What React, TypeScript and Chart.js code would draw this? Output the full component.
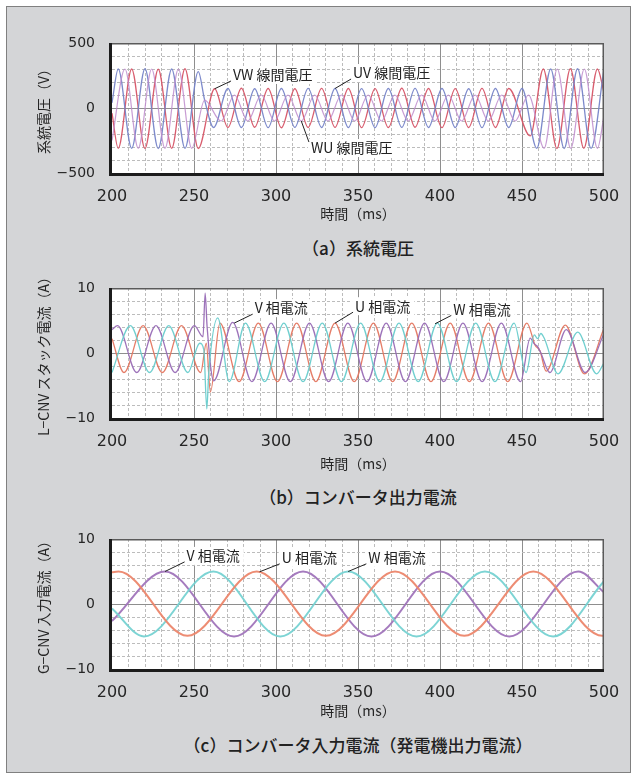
import React, { useEffect, useRef } from 'react';
import { Chart, registerables } from 'chart.js';

Chart.register(...registerables);

const JP_FONT = "'Noto Sans CJK JP', 'Noto Sans', sans-serif";
const NUM_FONT = "'DejaVu Sans', sans-serif";

// ---------- shared axis data ----------
const timeMin = 200;
const timeMax = 500;
const timeTickStep = 50;
const timeGridStep = 10;
const valueGridDivs = 10;

// ---------- (a) system line voltages [V] ----------
const aVWTime = [200, 203.8, 212, 220.1, 228.2, 236.4, 244.5, 252.6, 262.6, 270.7, 278.9, 287, 295.2, 303.3, 311.5, 319.6, 327.8, 336, 344.1, 352.2, 360.4, 368.5, 376.7, 384.8, 393, 401.2, 409.3, 417.5, 425.6, 433.8, 441.9, 455, 463, 471.3, 479.5, 487.7, 496, 500];
const aVWVolt = [-40, -310, 300, -312, 298, -310, 302, -312, 148, -150, 152, -148, 150, -152, 148, -150, 151, -149, 150, -151, 149, -150, 152, -148, 150, -151, 149, -150, 151, -150, 150, -215, 300, -312, 302, -310, 300, 120];

const aUVTime = [200, 203.8, 212, 220.1, 228.2, 236.4, 244.5, 252.6, 256.5, 262, 270.7, 278.9, 287, 295.2, 303.3, 311.5, 319.6, 327.8, 336, 344.1, 352.2, 360.4, 368.5, 376.7, 384.8, 393, 401.2, 409.3, 417.5, 425.6, 433.8, 441.9, 450, 459, 467.5, 475.7, 483.9, 492.1, 500];
const aUVVolt = [40, 300, -310, 302, -312, 300, -310, 280, 60, -150, 150, -150, 148, -151, 150, -149, 151, -150, 150, -150, 149, -151, 150, -149, 151, -150, 150, -150, 148, -151, 150, -150, 150, -310, 300, -312, 302, -310, 300];

const aWUTime = [200, 207.9, 216, 224.2, 232.3, 240.5, 248.6, 256.5, 266.5, 274.7, 282.8, 291, 299.1, 307.3, 315.4, 323.6, 331.7, 339.9, 348, 356.2, 364.3, 372.5, 380.6, 388.8, 396.9, 405.1, 413.2, 421.4, 429.5, 437.7, 445.8, 454, 463.5, 471.5, 479.7, 488, 496, 500];
const aWUVolt = [-250, 300, -310, 300, -310, 300, -310, 60, -100, 100, -100, 100, -100, 100, -100, 100, -100, 100, -100, 100, -100, 100, -100, 100, -100, 100, -100, 100, -100, 100, -100, 100, -310, 300, -310, 300, -310, -60];

// ---------- (b) converter output currents [A] ----------
const bUTime = [200, 207.3, 219, 230.7, 242.4, 254.1, 257.5, 260, 265.8, 277.5, 289.2, 300.9, 312.6, 324.3, 336, 347.7, 359.4, 371.1, 382.8, 394.5, 406.2, 417.9, 429.6, 441.3, 453, 458, 461, 464.7, 476.4, 488.1, 500];
const bUAmp = [2.2, -3.0, 4.2, -3.0, 4.2, -3.0, 1.5, -6.0, 4.6, -4.4, 4.6, -4.4, 4.6, -4.4, 4.6, -4.4, 4.6, -4.4, 4.6, -4.4, 4.6, -4.4, 4.6, -4.4, 4.6, 1.2, 0.3, -2.8, 4.3, -3.2, 3.8];

const bVTime = [200, 203.4, 215.1, 226.8, 238.5, 250.2, 255.5, 256.8, 258, 262, 273.6, 285.3, 297, 308.7, 320.4, 332.1, 343.8, 355.5, 367.2, 378.9, 390.6, 402.3, 414, 425.7, 437.4, 449.1, 455, 457.5, 459.5, 461.5, 467, 477, 488.5, 500];
const bVAmp = [3.6, 4.2, -3.0, 4.2, -3.0, 4.2, 2.5, 9.2, 4.0, -4.3, 4.7, -4.4, 4.6, -4.4, 4.6, -4.4, 4.6, -4.4, 4.6, -4.4, 4.6, -4.4, 4.6, -4.4, 4.6, -4.4, 2.3, 1.4, 1.0, 0.0, -3.0, 3.6, -3.0, 3.0];

const bWTime = [200, 211.2, 222.9, 234.6, 246.3, 253.5, 256, 257.8, 259, 264.5, 271.5, 281.4, 293.1, 304.8, 316.5, 328.2, 339.9, 351.6, 363.3, 375, 386.7, 398.4, 410.1, 421.8, 433.5, 445.2, 452.5, 457.5, 459.5, 461.5, 463.5, 472, 484, 495.5, 500];
const bWAmp = [-3.0, 4.2, -3.0, 4.2, -3.0, 1.5, 0.5, -8.6, -3.0, 5.4, -4.4, 4.6, -4.4, 4.6, -4.4, 4.6, -4.4, 4.6, -4.4, 4.6, -4.4, 4.6, -4.4, 4.6, -4.4, 4.6, -3.0, 2.8, 2.2, 3.0, 2.3, -3.2, 3.2, -3.2, -1.5];

// ---------- (c) converter input currents [A] ----------
const cUTime = [200, 204, 246, 288.2, 330.4, 372.6, 414.8, 456.9, 499, 500];
const cUAmp = [4.9, 5.0, -4.9, 5.0, -4.9, 5.0, -4.9, 5.0, -4.9, -4.9];
const cVTime = [200, 232.3, 274.4, 316.5, 358.2, 400, 442.2, 484.3, 500];
const cVAmp = [-2.6, 5.0, -5.0, 5.0, -5.0, 5.0, -5.0, 5.0, 1.8];
const cWTime = [200, 219.5, 261.8, 302.6, 344, 385.7, 427.4, 469, 500];
const cWAmp = [-0.7, -5.0, 5.0, -5.0, 5.0, -5.0, 5.0, -5.0, 3.5];

// ---------- annotation labels (data coordinates) ----------
const aLabels = [
  { text: 'VW 線間電圧', tx: 273.8, ty: 254, px: 262.6, py: 148 },
  { text: 'UV 線間電圧', tx: 347, ty: 269, px: 336, py: 150 },
  { text: 'WU 線間電圧', tx: 321.3, ty: -308, px: 315.4, py: -100 },
];
const bLabels = [
  { text: 'V 相電流', tx: 287, ty: 6.9, px: 274.5, py: 4.6 },
  { text: 'U 相電流', tx: 348.2, ty: 7.2, px: 336, py: 4.6 },
  { text: 'W 相電流', tx: 408.1, ty: 6.7, px: 397, py: 4.5 },
];
const cLabels = [
  { text: 'V 相電流', tx: 245.5, ty: 7.4, px: 232.3, py: 5.0 },
  { text: 'U 相電流', tx: 303.5, ty: 7.1, px: 290, py: 4.95 },
  { text: 'W 相電流', tx: 356.3, ty: 7.1, px: 344, py: 5.0 },
];

const scopePlugin = {
  id: 'scope',
  beforeDatasetsDraw(chart: any) {
    const { ctx, chartArea, scales } = chart;
    const { left, right, top, bottom } = chartArea;
    const xs = scales.x;
    const ys = scales.y;
    ctx.save();
    ctx.fillStyle = '#ffffff';
    ctx.fillRect(left, top, right - left, bottom - top);
    ctx.lineWidth = 1;
    const nx = Math.round((xs.max - xs.min) / timeGridStep);
    const majorEvery = Math.round(timeTickStep / timeGridStep);
    for (let i = 1; i < nx; i++) {
      const px = Math.round(xs.getPixelForValue(xs.min + i * timeGridStep)) + 0.5;
      const major = i % majorEvery === 0;
      ctx.strokeStyle = major ? '#8e8e8e' : '#bcbcbc';
      ctx.setLineDash(major ? [] : [3, 2]);
      ctx.beginPath();
      ctx.moveTo(px, top);
      ctx.lineTo(px, bottom);
      ctx.stroke();
    }
    for (let j = 1; j < valueGridDivs; j++) {
      const v = ys.min + (j * (ys.max - ys.min)) / valueGridDivs;
      const py = Math.round(ys.getPixelForValue(v)) + 0.5;
      const major = Math.abs(v) < 1e-9;
      ctx.strokeStyle = major ? '#8e8e8e' : '#bcbcbc';
      ctx.setLineDash(major ? [] : [3, 2]);
      ctx.beginPath();
      ctx.moveTo(left, py);
      ctx.lineTo(right, py);
      ctx.stroke();
    }
    ctx.restore();
  },
  afterDatasetsDraw(chart: any, _args: any, opts: any) {
    const { ctx, chartArea, scales } = chart;
    const { left, right, top, bottom } = chartArea;
    ctx.save();
    ctx.setLineDash([]);
    ctx.strokeStyle = '#5a5a5a';
    ctx.lineWidth = 1.5;
    ctx.beginPath();
    ctx.moveTo(left, top + 0.75);
    ctx.lineTo(right - 0.75, top + 0.75);
    ctx.lineTo(right - 0.75, bottom);
    ctx.stroke();
    ctx.strokeStyle = '#1c1c1c';
    ctx.lineWidth = 3;
    ctx.beginPath();
    ctx.moveTo(left - 1.5, top);
    ctx.lineTo(left - 1.5, bottom + 1.5);
    ctx.lineTo(right, bottom + 1.5);
    ctx.stroke();

    const items = (opts && opts.items) || [];
    ctx.font = `14px ${JP_FONT}`;
    ctx.textBaseline = 'middle';
    ctx.textAlign = 'left';
    for (const it of items) {
      const tx = scales.x.getPixelForValue(it.tx);
      const ty = scales.y.getPixelForValue(it.ty);
      const px = scales.x.getPixelForValue(it.px);
      const py = scales.y.getPixelForValue(it.py);
      const w = ctx.measureText(it.text).width;
      ctx.fillStyle = '#ffffff';
      ctx.fillRect(tx - 3, ty - 9, w + 7, 18);
      const sy = py < ty ? ty - 6 : ty + 6;
      ctx.strokeStyle = '#222222';
      ctx.lineWidth = 1;
      ctx.beginPath();
      ctx.moveTo(tx - 2, sy);
      ctx.lineTo(px, py);
      ctx.stroke();
      ctx.fillStyle = '#222222';
      ctx.fillText(it.text, tx, ty);
    }
    ctx.restore();
  },
};

type Series = { t: number[]; v: number[]; color: string; width: number };
type PanelProps = {
  top: number;
  height: number;
  padTop: number;
  xAxisHeight: number;
  xTitlePad: number;
  yMin: number;
  yMax: number;
  yTitle: string;
  series: Series[];
  labels: any[];
};

function Panel(p: PanelProps) {
  const ref = useRef<HTMLCanvasElement>(null);
  useEffect(() => {
    const chart = new Chart(ref.current as HTMLCanvasElement, {
      type: 'line',
      data: {
        datasets: p.series.map((s) => ({
          data: s.t.map((x, i) => ({ x, y: s.v[i] })),
          borderColor: s.color,
          borderWidth: s.width,
          pointRadius: 0,
          fill: false,
          cubicInterpolationMode: 'monotone',
        })),
      },
      options: {
        responsive: false,
        animation: false,
        devicePixelRatio: 1,
        events: [],
        layout: { padding: { top: p.padTop, right: 33, left: 0, bottom: 0 } },
        plugins: {
          legend: { display: false },
          tooltip: { enabled: false },
          scope: { items: p.labels },
        } as any,
        scales: {
          x: {
            type: 'linear',
            min: timeMin,
            max: timeMax,
            grid: { display: false },
            border: { display: false },
            ticks: {
              stepSize: timeTickStep,
              autoSkip: false,
              maxRotation: 0,
              padding: 6,
              color: '#262626',
              font: { family: NUM_FONT, size: 16 },
            },
            title: {
              display: true,
              text: '時間（ms）',
              color: '#262626',
              font: { family: JP_FONT, size: 14 },
              padding: { top: 0, bottom: p.xTitlePad },
            },
            afterFit: (s: any) => {
              s.height = p.xAxisHeight;
            },
          },
          y: {
            type: 'linear',
            min: p.yMin,
            max: p.yMax,
            grid: { display: false },
            border: { display: false },
            ticks: {
              stepSize: p.yMax,
              padding: 9,
              color: '#262626',
              font: { family: NUM_FONT, size: 14 },
              callback: (v: any) => (Number(v) < 0 ? '−' + Math.abs(Number(v)) : String(v)),
            },
            title: {
              display: true,
              text: p.yTitle,
              color: '#262626',
              font: { family: JP_FONT, size: 14 },
              padding: { top: 35, bottom: 0 },
            },
            afterFit: (s: any) => {
              s.width = 112;
            },
          },
        },
      } as any,
      plugins: [scopePlugin as any],
    });
    return () => chart.destroy();
  }, []);
  return (
    <canvas
      ref={ref}
      width={637}
      height={p.height}
      style={{ position: 'absolute', left: 0, top: p.top, width: 637, height: p.height }}
    />
  );
}

const captionStyle = (top: number): React.CSSProperties => ({
  position: 'absolute',
  left: 108,
  width: 500,
  top,
  height: 24,
  lineHeight: '24px',
  textAlign: 'center',
  fontFamily: JP_FONT,
  fontSize: 17,
  fontWeight: 500,
  color: '#222222',
});

export default function App() {
  return (
    <div style={{ position: 'absolute', left: 0, top: 0, width: 637, height: 780, background: '#ffffff', overflow: 'hidden' }}>
      <div
        style={{
          position: 'absolute',
          left: 6,
          top: 6,
          width: 623,
          height: 765,
          background: '#d4d5d7',
          border: '1px solid #808080',
        }}
      />
      <Panel
        top={0}
        height={230}
        padTop={43}
        xAxisHeight={57}
        xTitlePad={7.6}
        yMin={-500}
        yMax={500}
        yTitle="系統電圧（V）"
        series={[
          { t: aWUTime, v: aWUVolt, color: 'rgba(190,140,205,0.85)', width: 1.2 },
          { t: aUVTime, v: aUVVolt, color: 'rgba(118,132,200,0.95)', width: 1.3 },
          { t: aVWTime, v: aVWVolt, color: 'rgba(214,84,102,0.95)', width: 1.3 },
        ]}
        labels={aLabels}
      />
      <div style={captionStyle(236)}>（a）系統電圧</div>
      <Panel
        top={250}
        height={230}
        padTop={38}
        xAxisHeight={62}
        xTitlePad={7.6}
        yMin={-10}
        yMax={10}
        yTitle="L−CNV スタック電流（A）"
        series={[
          { t: bWTime, v: bWAmp, color: 'rgba(104,204,204,0.95)', width: 1.3 },
          { t: bVTime, v: bVAmp, color: 'rgba(152,108,182,0.95)', width: 1.3 },
          { t: bUTime, v: bUAmp, color: 'rgba(228,118,96,0.95)', width: 1.3 },
        ]}
        labels={bLabels}
      />
      <div style={captionStyle(485)}>（b）コンバータ出力電流</div>
      <Panel
        top={500}
        height={230}
        padTop={39}
        xAxisHeight={61}
        xTitlePad={10.6}
        yMin={-10}
        yMax={10}
        yTitle="G−CNV 入力電流（A）"
        series={[
          { t: cUTime, v: cUAmp, color: 'rgba(236,134,108,0.95)', width: 2 },
          { t: cWTime, v: cWAmp, color: 'rgba(118,210,210,0.95)', width: 2 },
          { t: cVTime, v: cVAmp, color: 'rgba(160,116,186,0.95)', width: 2 },
        ]}
        labels={cLabels}
      />
      <div style={captionStyle(733)}>（c）コンバータ入力電流（発電機出力電流）</div>
    </div>
  );
}
